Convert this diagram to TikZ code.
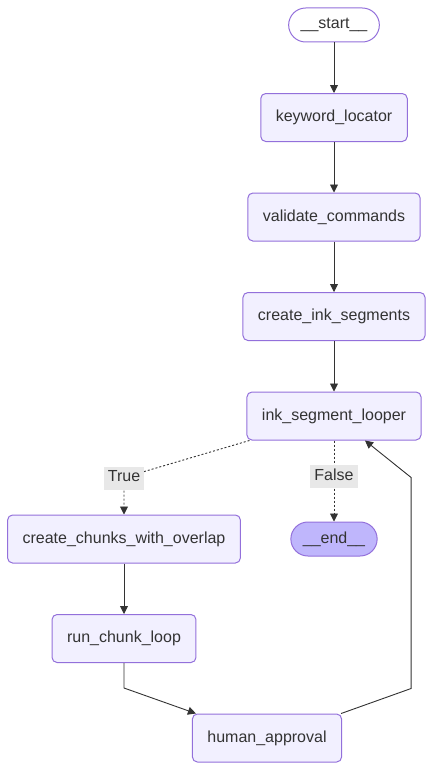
\documentclass[tikz,border=0pt]{standalone}
\usepackage{fontspec}
\setmainfont{Liberation Sans}
\usepackage{tikz}
\usetikzlibrary{arrows.meta, positioning, calc}
\definecolor{nodeFill}{HTML}{F2F0FF}
\definecolor{nodeStroke}{HTML}{9370DB}
\definecolor{endFill}{HTML}{BFB6FC}
\definecolor{edgeGray}{HTML}{333333}
\definecolor{labelGray}{HTML}{E8E8E8}
\definecolor{textGray}{HTML}{333333}

\begin{document}
\begin{tikzpicture}[
    node distance=50.5pt,
    state/.style={rectangle, draw=nodeStroke, line width=1pt, fill=nodeFill, rounded corners=5pt, minimum height=48pt, inner xsep=15pt, text=textGray, font=\fontsize{16}{19}\selectfont},
    terminal/.style={state, rounded corners=17pt, minimum height=34pt, inner xsep=12pt},
    flow/.style={-{Triangle[length=8pt, width=8pt]}, line width=0.9pt, edgeGray},
    flow_dotted/.style={flow, dash pattern=on 2pt off 2pt},
    branch_label/.style={rectangle, fill=labelGray, text=textGray, inner xsep=4pt, inner ysep=3pt, text height=12pt, text depth=5pt, font=\fontsize{16}{19}\selectfont}
]
    \useasboundingbox (0,0) rectangle (433pt,-768pt);

    % Main column: start down to the looper
    \node[terminal, fill=white] (start) at (334pt,-25pt) {\_\_start\_\_};
    \node[state, below=of start] (keyword) {keyword\_locator};
    \node[state, below=of keyword] (validate) {validate\_commands};
    \node[state, below=of validate] (segments) {create\_ink\_segments};
    \node[state, below=of segments] (looper) {ink\_segment\_looper};

    % Branches: chunk loop on the left, end on the right
    \node[state, below=74pt of looper, xshift=-210pt] (chunks) {create\_chunks\_with\_overlap};
    \node[terminal, fill=endFill, below=81pt of looper] (finish) {\_\_end\_\_};
    \node[state, below=of chunks] (run) {run\_chunk\_loop};
    \node[state, below=of run, xshift=143pt] (approval) {human\_approval};

    \coordinate (trueBend) at ([yshift=37pt]chunks.north);

    % Connections
    \draw[flow] (start) -- (keyword);
    \draw[flow] (keyword) -- (validate);
    \draw[flow] (validate) -- (segments);
    \draw[flow] (segments) -- (looper);
    \draw[flow_dotted] ([xshift=3pt]looper.south west) -- (trueBend) -- node[branch_label, pos=0.02] {True} (chunks.north);
    \draw[flow_dotted] (looper) -- node[branch_label, pos=0.45] {False} (finish);
    \draw[flow] (chunks) -- (run);
    \draw[flow] (run.south) -- ++(0,-25pt) -- ([xshift=4pt]approval.north west);
    \draw[flow] ([xshift=-1pt]approval.north east) -- ++(70pt,25pt) -- ++(0,211pt) -- ([xshift=31pt]looper.south);
\end{tikzpicture}
\end{document}
